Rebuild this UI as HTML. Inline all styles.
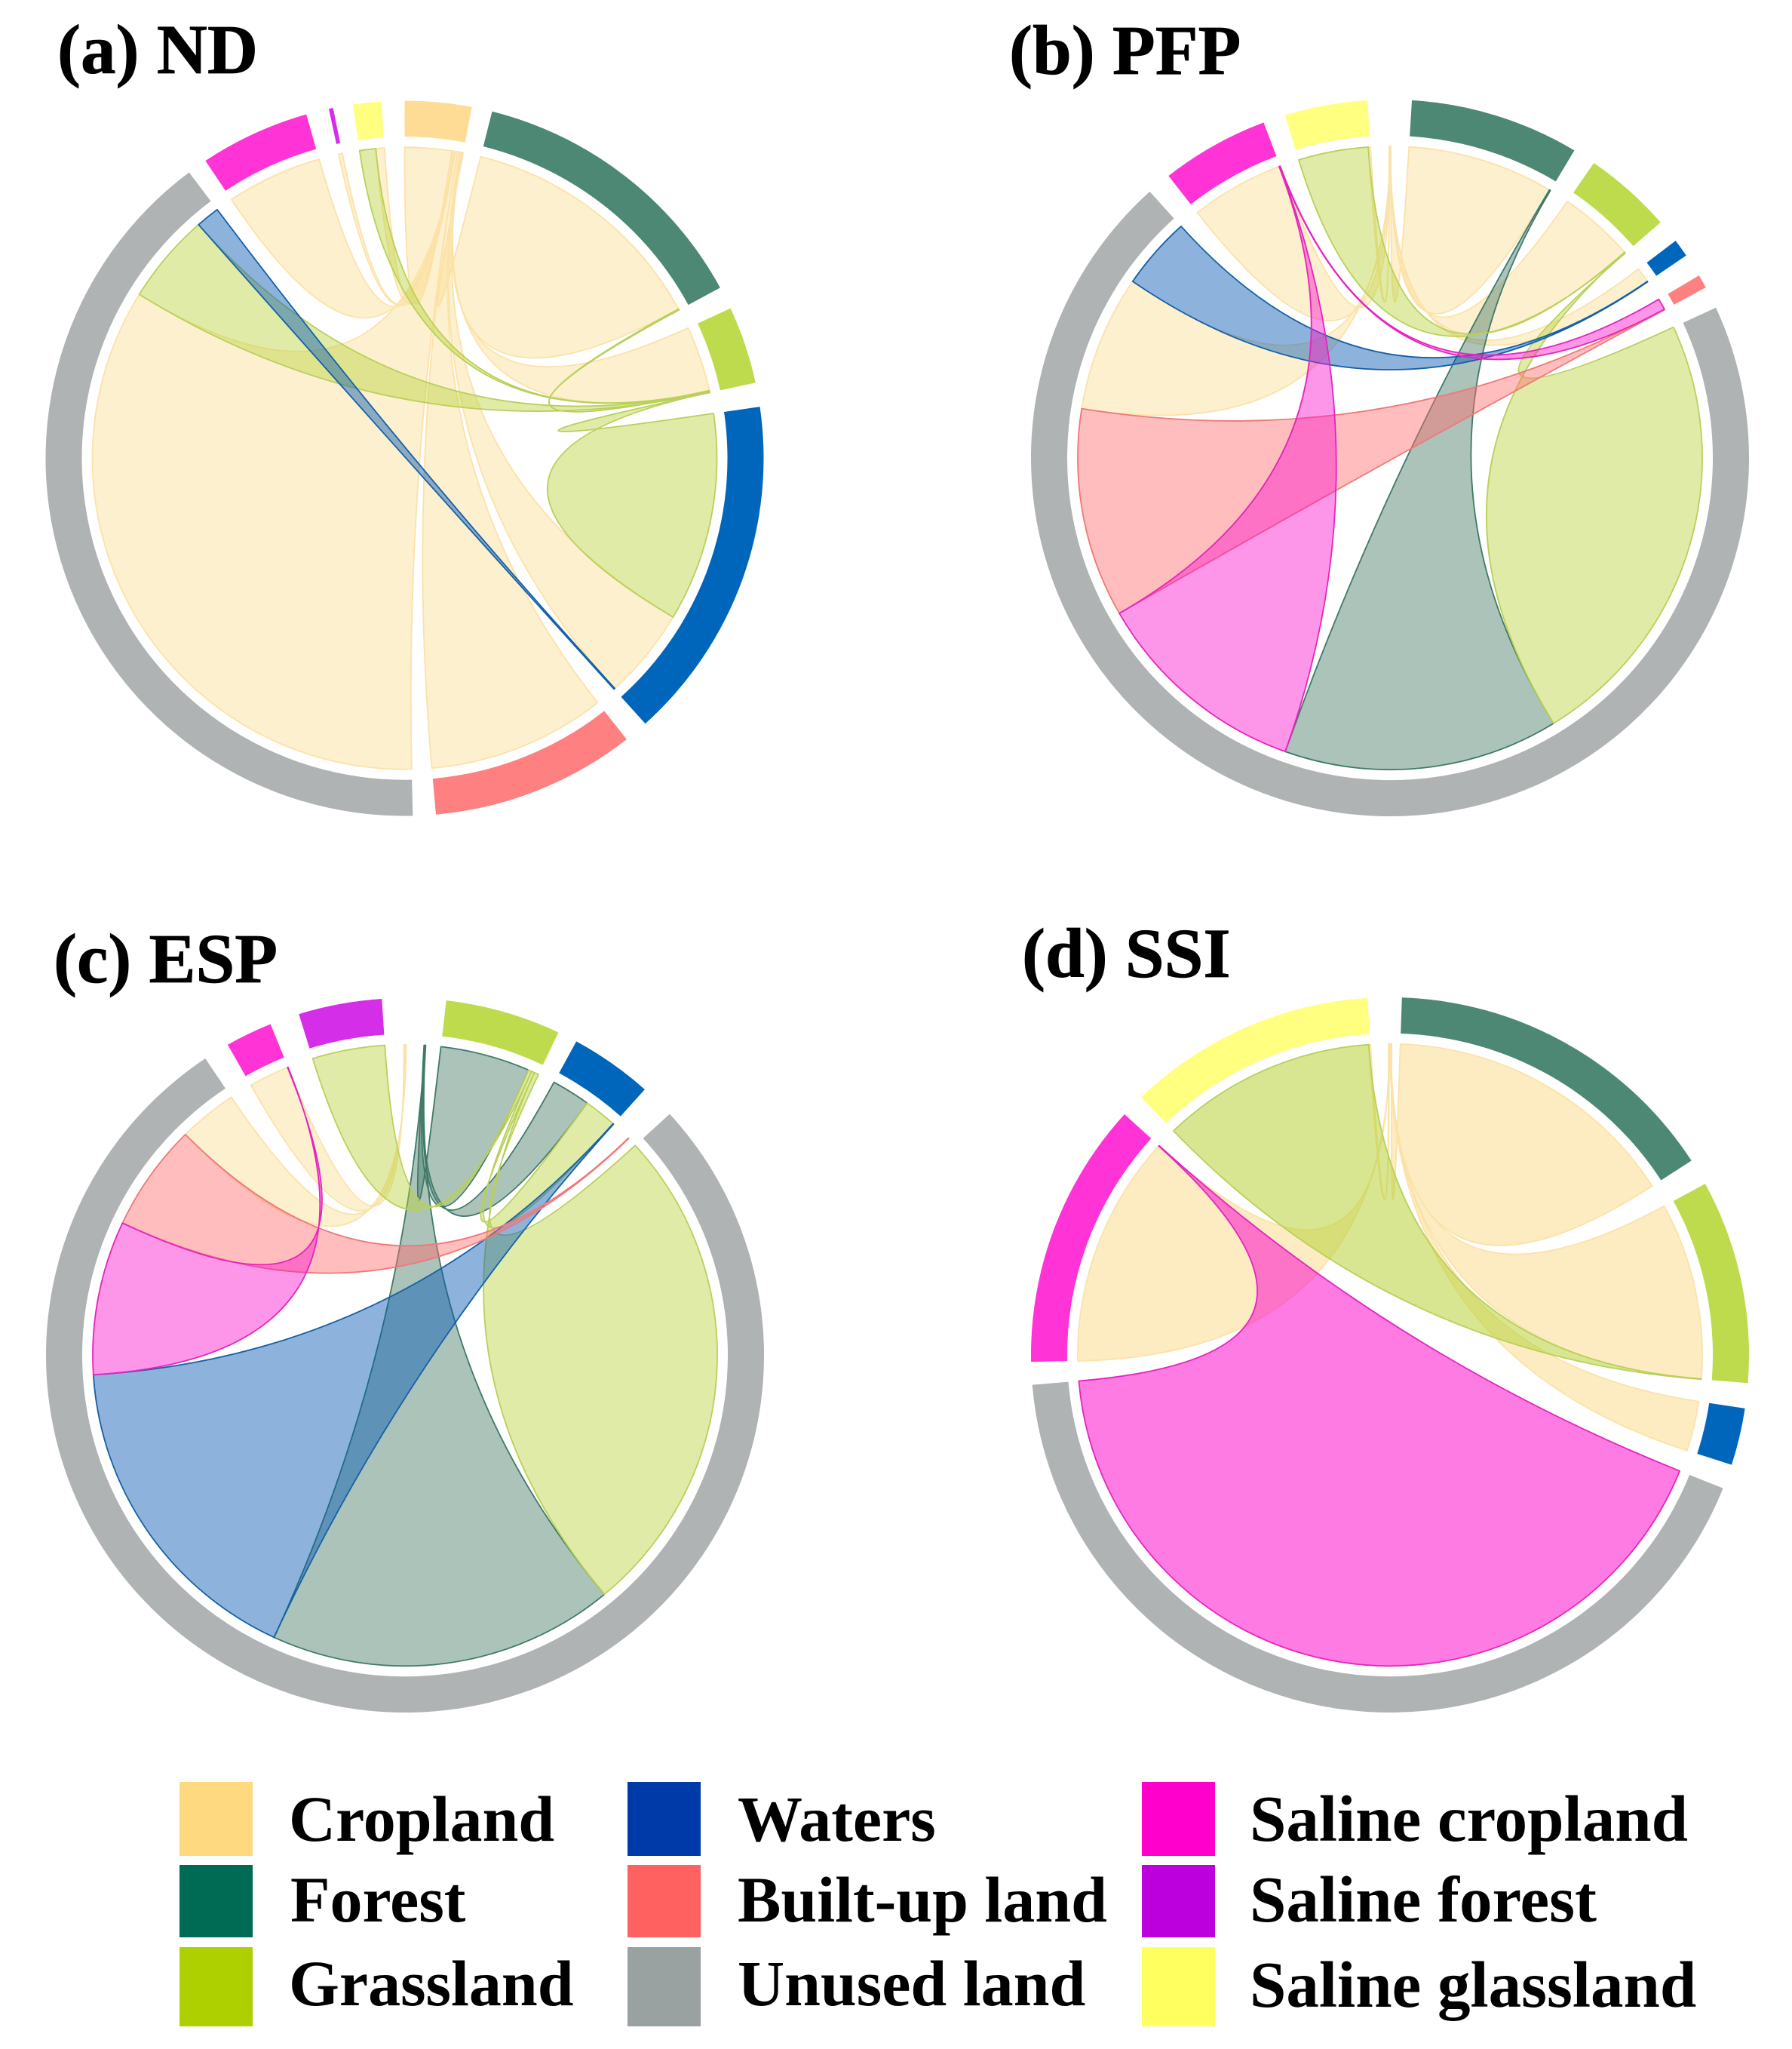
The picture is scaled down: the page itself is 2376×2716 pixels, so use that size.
<!DOCTYPE html>
<html lang="en">
<head>
<meta charset="utf-8">
<title>Chord diagrams of land use transitions</title>
<style>
html,body{margin:0;padding:0;background:#fff;}
svg{display:block;}
text{font-family:"Liberation Serif",serif;font-weight:bold;fill:#000;}
.title{font-size:93px;stroke:#000;stroke-width:0.8px;}
.leg{font-size:86px;}
.leg3{font-size:87px;}
</style>
</head>
<body>
<svg id="chart" xmlns="http://www.w3.org/2000/svg" width="2376" height="2716" viewBox="0 0 2376 2716">
  <rect x="0" y="0" width="2376" height="2716" fill="#fff"/>
  <text class="title" x="76" y="97">(a) ND</text>
  <text class="title" x="1338" y="98">(b) PFP</text>
  <text class="title" x="71" y="1302">(c) ESP</text>
  <text class="title" x="1355" y="1295">(d) SSI</text>
  <g id="panels"></g>
  <g>
    <g><rect x="238" y="2362" width="97" height="98" fill="#FFD97F"/><text class="leg" x="383" y="2440">Cropland</text></g>
    <g><rect x="238" y="2472" width="97" height="96" fill="#006B54"/><text class="leg" x="385" y="2547">Forest</text></g>
    <g><rect x="238" y="2581" width="97" height="105" fill="#AFD000"/><text class="leg" x="383" y="2658">Grassland</text></g>
    <g><rect x="832" y="2362" width="97" height="98" fill="#0039A8"/><text class="leg" x="978" y="2440">Waters</text></g>
    <g><rect x="832" y="2472" width="97" height="96" fill="#FF6060"/><text class="leg" x="978" y="2547">Built-up land</text></g>
    <g><rect x="832" y="2581" width="97" height="105" fill="#9AA1A1"/><text class="leg" x="978" y="2658">Unused land</text></g>
    <g><rect x="1514" y="2362" width="97" height="98" fill="#FF00CC"/><text class="leg3" x="1657" y="2440">Saline cropland</text></g>
    <g><rect x="1514" y="2472" width="97" height="96" fill="#BB00DD"/><text class="leg3" x="1657" y="2547">Saline forest</text></g>
    <g><rect x="1514" y="2581" width="97" height="105" fill="#FFFF60"/><text class="leg3" x="1657" y="2660">Saline glassland</text></g>
  </g>
</svg>
<script>
// Categories, in clockwise drawing order
const sectorKeys = ['cropland','forest','grassland','waters','built-up','unused','saline-cropland','saline-forest','saline-grassland'];

// Each sector lists its flow ends, clockwise: [partner sector index, value]
const endsND = [
  [[0,8.7],[8,0.3],[6,0.3],[7,0.05],[5,0.45],[4,0.4],[3,0.3],[2,0.1],[1,0.2]],
  [[0,47.2],[2,0.2]],
  [[0,12.2],[1,0.1],[8,0.05],[5,0.2],[3,0.05]],
  [[2,39],[0,17],[5,0.2]],
  [[0,33.2]],
  [[0,123.1],[2,16.9],[3,4.4]],
  [[0,17.8]],
  [[0,0.7]],
  [[2,3],[0,1.6]]
];
const endsPFP = [
  [[8,0.05],[6,0.05],[5,0.05],[3,0.05],[2,0.05],[1,0.05]],
  [[0,27.2],[5,0.2]],
  [[0,14.1],[8,0.1],[5,0.1]],
  [[0,2.8],[5,0.1]],
  [[6,2.1],[5,0.1]],
  [[2,83.2],[1,51.2],[6,40.5],[4,39],[0,25.4],[3,13.5]],
  [[0,17.3],[5,0.1],[4,0.1]],
  [],
  [[2,13],[0,0.4]]
];
const endsESP = [
  [[6,0.2],[5,0.2]],
  [[2,0.1],[3,0.1],[5,0.1]],
  [[1,16.7],[7,0.6],[3,0.6],[5,0.8]],
  [[1,7.2],[2,6.1],[5,0.1]],
  [[5,0.1]],
  [[2,92.8],[1,64.5],[3,61.6],[6,28.8],[4,20.1],[0,10.9]],
  [[0,7.5],[5,0.1]],
  [[2,13.5]],
  []
];
const endsSSI = [
  [[8,0.12],[6,0.12],[3,0.12],[2,0.12],[1,0.12]],
  [[0,55.2]],
  [[0,33],[8,0.1]],
  [[0,9.3]],
  [],
  [[6,153.3]],
  [[0,43.3],[5,0.1]],
  [],
  [[2,40],[0,0.3]]
];

// Gap in degrees following each sector
const gapsND = [3.3,3.7,3.9,3.9,3.7,3.2,3.7,3.2,3.7];
const gapsPFP = [3.35,3.7,3.8,3.8,3.6,3.9,3.6,0,3.45];
const gapsESP = [3.3,2.8,3.2,3.75,1.75,4.2,4.8,3.5,0];
const gapsSSI = [1.6,4.3,4.1,4.0,0,3.7,3.8,0,3.3];

const panelKeys = ['nd','pfp','esp','ssi'];
const panelEnds = [endsND,endsPFP,endsESP,endsSSI];
const panelGaps = [gapsND,gapsPFP,gapsESP,gapsSSI];
const panelStarts = [0,-0.15,-0.2,-0.3];
const panelCx = [536.5,1843,537,1843];
const panelCy = [607.5,607,1796.5,1796];
const panelSquash = [0.9958,0.998,0.9947,0.9958];
const panelOpacity = [0.45,0.45,0.45,0.57];

const ringColors = ['#FFDC96','#4D8874','#BEDB4D','#0066BB','#FF8080','#AFB3B4','#FF33D6','#D42EE8','#FFFF80'];
const ribbonFills = ['#FBDE94','#477A66','#BAD33E','#0257B4','#FF6C6C','#AFB3B4','#FB16CC','#C800E0','#FFFF60'];
const ribbonStrokes = ['#FBE2A8','#3F7A68','#B9D05A','#1560A8','#F07878','#999999','#E524BE','#C020D0','#F5F580'];

const ringOuter = 476;
const ringInner = 428;
const ribbonRadius = 414;
const minRingWidth = 0.65;
const svgNS = 'http://www.w3.org/2000/svg';

function polar(cx, cy, r, deg) {
  const t = deg * Math.PI / 180;
  return [cx + r * Math.sin(t), cy - r * Math.cos(t)];
}
function fmt(p) { return p[0].toFixed(2) + ' ' + p[1].toFixed(2); }
function arcTo(cx, cy, r, a0, a1, sweep) {
  const large = Math.abs(a1 - a0) > 180 ? 1 : 0;
  return 'A' + r + ' ' + r + ' 0 ' + large + ' ' + sweep + ' ' + fmt(polar(cx, cy, r, a1));
}
function sum(list) { return list.reduce(function(s, e){ return s + e[1]; }, 0); }

function layoutPanel(ends, gaps, start) {
  const totalValue = ends.reduce(function(s, list){ return s + sum(list); }, 0);
  const totalGap = gaps.reduce(function(s, g){ return s + g; }, 0);
  const scale = (360 - totalGap) / totalValue;
  const sectors = [];
  let angle = start;
  ends.forEach(function(list, i) {
    const sector = { start: angle, parts: {}, value: sum(list) };
    list.forEach(function(e) {
      sector.parts[e[0]] = { a0: angle, a1: angle + e[1] * scale, value: e[1] };
      angle += e[1] * scale;
    });
    sector.end = angle;
    sectors.push(sector);
    angle += gaps[i];
  });
  return sectors;
}

function drawPanel(root, p) {
  const cx = panelCx[p], cy = panelCy[p], R = ribbonRadius;
  const sectors = layoutPanel(panelEnds[p], panelGaps[p], panelStarts[p]);
  const group = document.createElementNS(svgNS, 'g');
  
  
  group.setAttribute('transform', 'translate(0 ' + cy + ') scale(1 ' + panelSquash[p] + ') translate(0 ' + (-cy) + ')');
  root.appendChild(group);

  sectors.forEach(function(s, i) {
    if (s.end - s.start < minRingWidth) return;
    const d = 'M' + fmt(polar(cx, cy, ringOuter, s.start)) +
      arcTo(cx, cy, ringOuter, s.start, s.end, 1) +
      'L' + fmt(polar(cx, cy, ringInner, s.end)) +
      arcTo(cx, cy, ringInner, s.end, s.start, 0) + 'Z';
    const arc = document.createElementNS(svgNS, 'path');
    arc.setAttribute('d', d);
    arc.setAttribute('fill', ringColors[i]);
    
    
    group.appendChild(arc);
  });

  sectors.forEach(function(s, i) {
    Object.keys(s.parts).forEach(function(key) {
      const j = Number(key);
      if (j < i) return;
      const a = s.parts[j];
      const b = j === i ? null : sectors[j].parts[i];
      if (j !== i && !b) return;
      let d = 'M' + fmt(polar(cx, cy, R, a.a0)) + arcTo(cx, cy, R, a.a0, a.a1, 1);
      let colorIndex = i;
      if (b) {
        d += 'Q' + cx + ' ' + cy + ' ' + fmt(polar(cx, cy, R, b.a0)) +
          arcTo(cx, cy, R, b.a0, b.a1, 1) +
          'Q' + cx + ' ' + cy + ' ' + fmt(polar(cx, cy, R, a.a0)) + 'Z';
        colorIndex = b.value < a.value ? j : i;
      } else {
        d += 'Q' + cx + ' ' + cy + ' ' + fmt(polar(cx, cy, R, a.a0)) + 'Z';
      }
      const ribbon = document.createElementNS(svgNS, 'path');
      ribbon.setAttribute('d', d);
      ribbon.setAttribute('fill', ribbonFills[colorIndex]);
      ribbon.setAttribute('fill-opacity', panelOpacity[p]);
      ribbon.setAttribute('stroke', ribbonStrokes[colorIndex]);
      ribbon.setAttribute('stroke-width', '1.8');
      ribbon.setAttribute('stroke-linejoin', 'round');
      
      
      group.appendChild(ribbon);
    });
  });
}

const panelsRoot = document.getElementById('panels');
panelKeys.forEach(function(_, p) { drawPanel(panelsRoot, p); });
</script>
</body>
</html>
